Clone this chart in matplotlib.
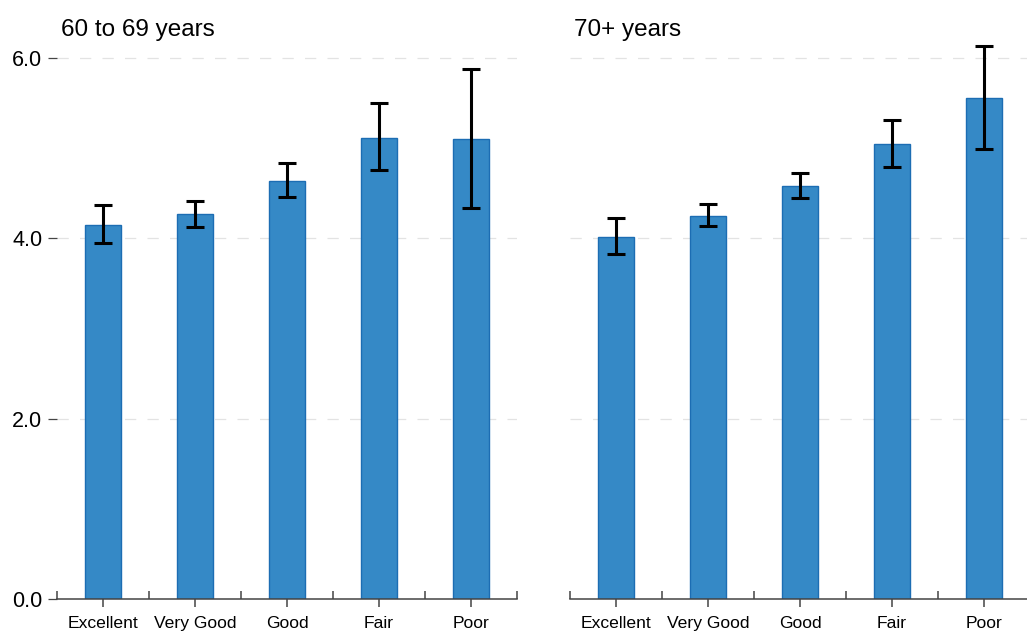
import matplotlib
matplotlib.use("Agg")
import matplotlib.pyplot as plt
import numpy as np

categories = ["Excellent", "Very Good", "Good", "Fair", "Poor"]
titles = ["60 to 69 years", "70+ years"]
means_60 = [4.15, 4.27, 4.63, 5.11, 5.10]
lo_60 = [3.95, 4.12, 4.46, 4.76, 4.33]
hi_60 = [4.37, 4.41, 4.83, 5.50, 5.88]
means_70 = [4.01, 4.25, 4.58, 5.04, 5.55]
lo_70 = [3.82, 4.14, 4.45, 4.79, 4.99]
hi_70 = [4.22, 4.38, 4.72, 5.31, 6.13]
yticks = [0.0, 2.0, 4.0, 6.0]
ytick_labels = ["0.0", "2.0", "4.0", "6.0"]

plt.rcParams['font.family'] = ['Liberation Sans', 'DejaVu Sans']

W, H = 1027, 631
fig = plt.figure(figsize=(W / 100, H / 100), dpi=100)

axw = 460 / W
bottom = 32 / H
height = 6.2 * 90.2 / H
ax1 = fig.add_axes([57 / W, bottom, axw, height])
ax2 = fig.add_axes([570 / W, bottom, axw, height])

data = [(means_60, lo_60, hi_60), (means_70, lo_70, hi_70)]
x = np.arange(len(categories))
for i, (ax, (m, lo, hi), title) in enumerate(zip([ax1, ax2], data, titles)):
    m = np.array(m); lo = np.array(lo); hi = np.array(hi)
    for yv in yticks[1:]:
        ax.axhline(yv, color='#e3e3e3', lw=0.9, linestyle=(0, (9, 9)), zorder=0)
    ax.bar(x, m, width=0.39, color='#3589c6', edgecolor='#1c6db3', linewidth=1.0, zorder=2)
    ax.errorbar(x, m, yerr=[m - lo, hi - m], fmt='none', ecolor='black',
                elinewidth=2.2, capsize=6.5, capthick=2.2, zorder=3)
    ax.set_xlim(-0.5, 4.5)
    ax.set_ylim(0, 6.2)
    for s in ['top', 'right', 'left']:
        ax.spines[s].set_visible(False)
    ax.spines['bottom'].set_color('#444444')
    ax.spines['bottom'].set_linewidth(1.1)
    ax.set_xticks(x)
    ax.set_xticklabels(categories, fontsize=12.6)
    ax.set_xticks(np.arange(-0.5, 5.0, 1.0), minor=True)
    ax.tick_params(axis='x', which='major', direction='out', length=6, width=1.1,
                   color='#444444', pad=6.5)
    ax.tick_params(axis='x', which='minor', direction='in', length=6, width=1.1,
                   color='#444444')
    if i == 0:
        ax.set_yticks(yticks)
        ax.set_yticklabels(ytick_labels, fontsize=15.5)
        ax.tick_params(axis='y', direction='out', length=6.5, width=0.9,
                       color='#444444', pad=4)
    else:
        ax.set_yticks([])
    ax.text(4 / 460, 1.0 + 10 / (6.2 * 90.2), title, transform=ax.transAxes,
            fontsize=17.5, ha='left', va='center')

fig.savefig("out.png", dpi=100)
